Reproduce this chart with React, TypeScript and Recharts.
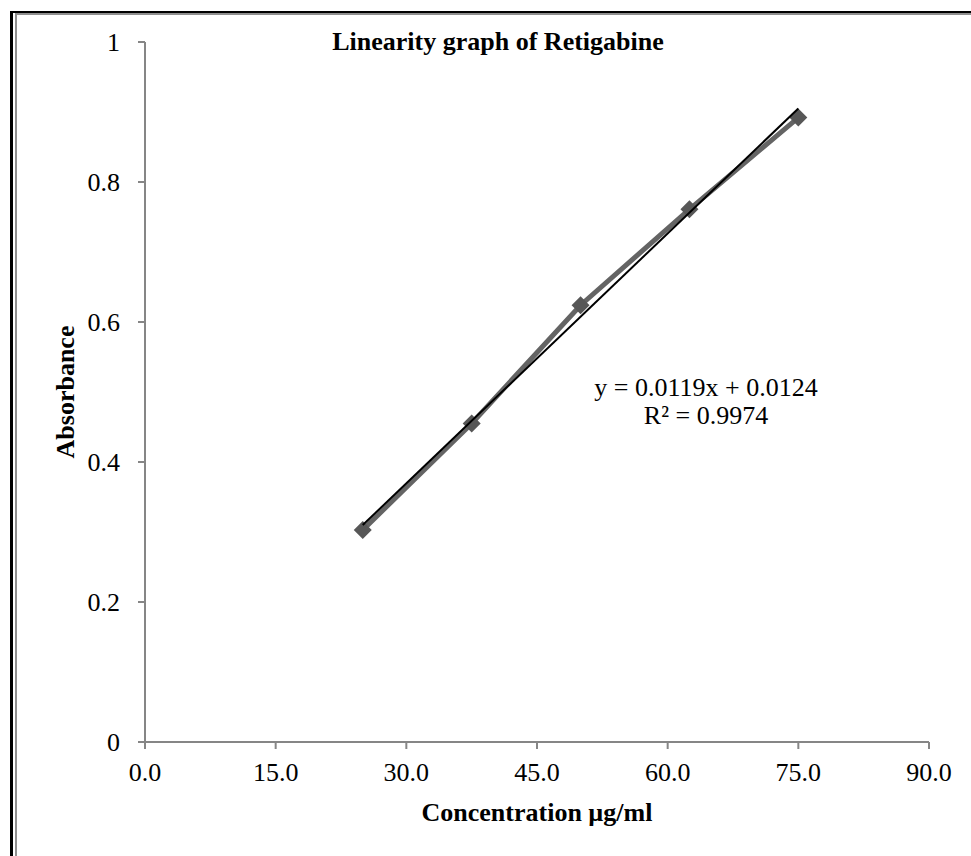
import React from "react";
import { ScatterChart, Scatter, XAxis, YAxis, Label } from "recharts";

const concentrations = [25, 37.5, 50, 62.5, 75];
const absorbances = [0.303, 0.455, 0.624, 0.761, 0.892];
const trendX = [25, 75];
const trendY = [0.31, 0.905];
const xTicks = [0, 15, 30, 45, 60, 75, 90];
const yTicks = [0, 0.2, 0.4, 0.6, 0.8, 1];
const chartTitle = "Linearity graph of Retigabine";
const xTitle = "Concentration µg/ml";
const yTitle = "Absorbance";
const equationLines = ["y = 0.0119x + 0.0124", "R² = 0.9974"];

const seriesData = concentrations.map((x, i) => ({ x, y: absorbances[i] }));
const trendData = trendX.map((x, i) => ({ x, y: trendY[i] }));

const FONT = '"Liberation Serif", "Times New Roman", serif';
const AXIS_GRAY = "#868686";

const Diamond = (props: any) => {
  const { cx, cy } = props;
  if (cx == null || cy == null) return <g />;
  const r = 9;
  return (
    <polygon
      points={`${cx},${cy - r} ${cx + r},${cy} ${cx},${cy + r} ${cx - r},${cy}`}
      fill="#575757"
      stroke="none"
    />
  );
};

const Empty = () => <g />;

export default function App() {
  return (
    <div
      style={{
        position: "absolute",
        left: 0,
        top: 0,
        width: 971,
        height: 856,
        overflow: "hidden",
        background: "#fff",
        fontFamily: FONT,
      }}
    >
      {/* outer frame */}
      <div
        style={{
          position: "absolute",
          left: 10,
          top: 11,
          width: 1000,
          height: 900,
          borderLeft: "3px solid #000",
          borderTop: "2px solid #000",
          boxSizing: "border-box",
        }}
      />
      <div
        style={{
          position: "absolute",
          left: 15,
          top: 13,
          width: 1000,
          height: 900,
          borderLeft: "2px solid #8f8f8f",
          borderTop: "2px solid #8f8f8f",
          boxSizing: "border-box",
        }}
      />
      <div style={{ position: "absolute", left: 0, top: 0 }}>
        <ScatterChart
          width={971}
          height={856}
          margin={{ top: 42, right: 42, bottom: 34, left: 10 }}
        >
          <XAxis
            type="number"
            dataKey="x"
            domain={[0, 90]}
            ticks={xTicks}
            interval={0}
            allowDataOverflow
            height={80}
            tickFormatter={(v: number) => v.toFixed(1)}
            tick={{ fill: "#000", fontSize: 26, fontFamily: FONT }}
            tickSize={7}
            tickMargin={14}
            axisLine={{ stroke: AXIS_GRAY, strokeWidth: 2 }}
            tickLine={{ stroke: AXIS_GRAY, strokeWidth: 2 }}
          >
            <Label
              value={xTitle}
              position="insideBottom"
              offset={1}
              style={{ fontFamily: FONT, fontSize: 26, fontWeight: "bold", fill: "#000" }}
            />
          </XAxis>
          <YAxis
            type="number"
            dataKey="y"
            domain={[0, 1]}
            ticks={yTicks}
            interval={0}
            allowDataOverflow
            width={135}
            tickFormatter={(v: number) => (v === 0 ? "0" : v === 1 ? "1" : v.toFixed(1))}
            tick={{ fill: "#000", fontSize: 26, fontFamily: FONT }}
            tickSize={7}
            tickMargin={18}
            axisLine={{ stroke: AXIS_GRAY, strokeWidth: 2 }}
            tickLine={{ stroke: AXIS_GRAY, strokeWidth: 2 }}
          >
            <Label
              value={yTitle}
              angle={-90}
              position="insideLeft"
              offset={55}
              style={{
                fontFamily: FONT,
                fontSize: 26,
                fontWeight: "bold",
                fill: "#000",
                textAnchor: "middle",
              }}
            />
          </YAxis>
          <Scatter
            name="Absorbance"
            data={seriesData}
            fill="#575757"
            line={{ stroke: "#646464", strokeWidth: 5 }}
            shape={Diamond}
            isAnimationActive={false}
          />
          <Scatter
            name="Linear trend"
            data={trendData}
            fill="#000"
            line={{ stroke: "#000", strokeWidth: 2 }}
            shape={Empty}
            isAnimationActive={false}
          />
        </ScatterChart>
      </div>
      {/* title */}
      <div
        style={{
          position: "absolute",
          left: 0,
          width: 996,
          top: 29,
          textAlign: "center",
          fontSize: 26,
          lineHeight: "26px",
          fontWeight: "bold",
          color: "#000",
          whiteSpace: "nowrap",
        }}
      >
        {chartTitle}
      </div>
      {/* equation */}
      <div
        style={{
          position: "absolute",
          left: 556,
          width: 300,
          top: 374,
          textAlign: "center",
          fontSize: 26,
          lineHeight: "28px",
          color: "#000",
          whiteSpace: "nowrap",
        }}
      >
        {equationLines.map((l) => (
          <div key={l}>{l}</div>
        ))}
      </div>
    </div>
  );
}
